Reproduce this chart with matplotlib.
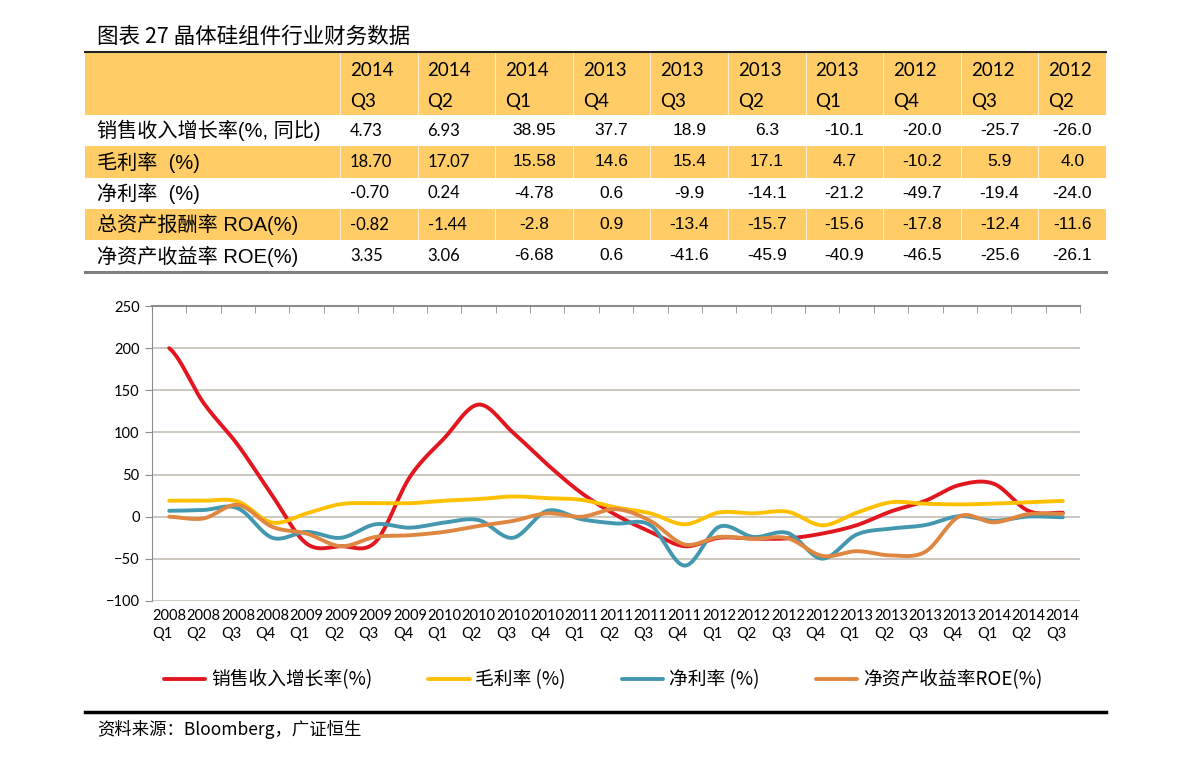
import numpy as np
import matplotlib
matplotlib.use("Agg")
import matplotlib.pyplot as plt
from matplotlib.ticker import FixedLocator
from matplotlib.patches import Rectangle

plt.rcParams['font.family'] = ['Noto Sans CJK SC', 'DejaVu Sans']

# ---- table data (columns run newest -> oldest, as in the report) ----
table_years = ['2014', '2014', '2014', '2013', '2013', '2013', '2013', '2012', '2012', '2012']
table_quarters = ['Q3', 'Q2', 'Q1', 'Q4', 'Q3', 'Q2', 'Q1', 'Q4', 'Q3', 'Q2']
row_labels = ['销售收入增长率(%, 同比)', '毛利率  (%)', '净利率  (%)',
              '总资产报酬率 ROA(%)', '净资产收益率 ROE(%)']
row_sales = ['4.73', '6.93', '38.95', '37.7', '18.9', '6.3', '-10.1', '-20.0', '-25.7', '-26.0']
row_gm = ['18.70', '17.07', '15.58', '14.6', '15.4', '17.1', '4.7', '-10.2', '5.9', '4.0']
row_nm = ['-0.70', '0.24', '-4.78', '0.6', '-9.9', '-14.1', '-21.2', '-49.7', '-19.4', '-24.0']
row_roa = ['-0.82', '-1.44', '-2.8', '0.9', '-13.4', '-15.7', '-15.6', '-17.8', '-12.4', '-11.6']
row_roe = ['3.35', '3.06', '-6.68', '0.6', '-41.6', '-45.9', '-40.9', '-46.5', '-25.6', '-26.1']

# ---- chart data, 2008Q1 .. 2014Q3 ----
years = ['2008'] * 4 + ['2009'] * 4 + ['2010'] * 4 + ['2011'] * 4 + ['2012'] * 4 + ['2013'] * 4 + ['2014'] * 3
quarters = ['Q1', 'Q2', 'Q3', 'Q4'] * 6 + ['Q1', 'Q2', 'Q3']
sales_growth = [200, 135, 85, 25, -32, -35, -30, 47, 93, 133, 100, 62, 28, 2, -18, -35,
                -25, -26.0, -25.7, -20.0, -10.1, 6.3, 18.9, 37.7, 38.95, 6.93, 4.73]
gross_margin = [19, 19, 18, -7, 4, 15, 16, 16, 19, 21, 24, 22, 20, 11, 4, -9,
                5, 4.0, 5.9, -10.2, 4.7, 17.1, 15.4, 14.6, 15.58, 17.07, 18.70]
net_margin = [7, 8, 10, -25, -18, -25, -9, -13, -7, -4, -25, 7, -3, -8, -10, -58,
              -12, -24.0, -19.4, -49.7, -21.2, -14.1, -9.9, 0.6, -4.78, 0.24, -0.70]
roe = [0, -2, 14, -12, -20, -35, -24, -22, -18, -11, -5, 4, 0, 9, -5, -33,
       -24, -26.1, -25.6, -46.5, -40.9, -45.9, -41.6, 0.6, -6.68, 3.06, 3.35]

series = [
    ('销售收入增长率(%)', sales_growth, '#E2161E'),
    ('毛利率 (%)', gross_margin, '#FFC000'),
    ('净利率 (%)', net_margin, '#4397AE'),
    ('净资产收益率ROE(%)', roe, '#DF8640'),
]

HEAD = '#FFCC66'


def smooth(vals, n=24):
    # Catmull-Rom, like Excel's smoothed line
    p = np.asarray(vals, float)
    pad = np.concatenate([[p[0]], p, [p[-1]]])
    xs, ys = [], []
    t = np.linspace(0, 1, n, endpoint=False)
    for i in range(len(p) - 1):
        p0, p1, p2, p3 = pad[i], pad[i + 1], pad[i + 2], pad[i + 3]
        y = 0.5 * (2 * p1 + (p2 - p0) * t + (2 * p0 - 5 * p1 + 4 * p2 - p3) * t ** 2
                   + (3 * p1 - p0 - 3 * p2 + p3) * t ** 3)
        xs.append(i + t)
        ys.append(y)
    xs.append([len(p) - 1])
    ys.append([p[-1]])
    return np.concatenate(xs), np.concatenate(ys)


W, H = 1191, 758
fig = plt.figure(figsize=(W / 100, H / 100), dpi=100)

# overlay in pixel coords for title / table / footer
ov = fig.add_axes([0, 0, 1, 1])
ov.set_xlim(0, W)
ov.set_ylim(H, 0)
ov.axis('off')

ov.text(97, 37, '图表 27 晶体硅组件行业财务数据', fontsize=15.5, va='center', ha='left')

# table
tx0, tx1 = 85, 1106
col_edges = [340 + 77.6 * i for i in range(10)] + [tx1]
row_tops = [115, 146, 178, 209, 240, 272]
ov.add_patch(Rectangle((tx0, 52), tx1 - tx0, 63, color=HEAD, lw=0))
for r in (1, 3):
    ov.add_patch(Rectangle((tx0, row_tops[r]), tx1 - tx0, row_tops[r + 1] - row_tops[r], color=HEAD, lw=0))
for xe in col_edges[:-1]:
    ov.plot([xe, xe], [52, 272], color='white', lw=0.8, alpha=0.7)
ov.plot([tx0, tx1], [52, 52], color='#222222', lw=1.5)
ov.plot([tx0, tx1], [272, 272], color='#7F7F7F', lw=2.2)

for j in range(10):
    x = col_edges[j] + 10
    ov.text(x, 70, table_years[j], fontsize=13.5, family=['Lato'], ha='left', va='center')
    ov.text(x, 101, table_quarters[j], fontsize=13.5, family=['Lato'], ha='left', va='center')

rows = [row_sales, row_gm, row_nm, row_roa, row_roe]
for r, (lab, vals) in enumerate(zip(row_labels, rows)):
    yc = (row_tops[r] + row_tops[r + 1]) / 2
    ov.text(97, yc, lab, fontsize=14.5, family=['Liberation Sans', 'Noto Sans CJK SC'],
            ha='left', va='center')
    for j, v in enumerate(vals):
        if j < 2:
            ov.text(col_edges[j] + 10, yc, v, fontsize=12, family=['Lato'], ha='left', va='center')
        else:
            xc = (col_edges[j] + col_edges[j + 1]) / 2
            ov.text(xc, yc, v, fontsize=12.5, family=['Liberation Sans'], ha='center', va='center')

# footer
ov.plot([85, 1106], [712, 712], color='black', lw=2.5)
ov.text(97, 729, '资料来源：Bloomberg，广证恒生', fontsize=12.5,
        family=['Noto Sans CJK SC', 'DejaVu Sans'], ha='left', va='center')

# chart
ax = fig.add_axes([152 / W, 1 - 601 / H, 928 / W, 295 / H])
n = len(years)
for name, vals, col in series:
    xs, ys = smooth(vals)
    ax.plot(xs, ys, color=col, lw=2.8, label=name, solid_capstyle='round')

ax.set_xlim(-0.5, n - 0.5)
ax.set_ylim(-100, 250)
ax.set_yticks(np.arange(-100, 251, 50))
ax.yaxis.grid(True, color='#C4BFB4', lw=1.2)
ax.set_axisbelow(True)
ax.set_xticks(range(n))
ax.set_xticklabels([f'{y}\n{q}' for y, q in zip(years, quarters)],
                   family=['Lato'], fontsize=10.5, multialignment='left', linespacing=1.35)
ax.xaxis.set_minor_locator(FixedLocator(np.arange(-0.5, n, 1.0)))
ax.tick_params(axis='x', which='major', length=0, pad=6)
ax.tick_params(axis='x', which='minor', bottom=False, top=True, direction='in',
               length=5, color='#8C8C8C')
ax.tick_params(axis='y', length=5, color='#8C8C8C', labelsize=10.5, pad=4)
for lab in ax.get_yticklabels():
    lab.set_family(['Lato'])
for s in ('right', 'bottom'):
    ax.spines[s].set_visible(False)
ax.spines['left'].set_color('#8C8C8C')
ax.spines['top'].set_color('#8C8C8C')
ax.spines['top'].set_linewidth(1.5)

fig.legend(loc='center', bbox_to_anchor=(603 / W, 1 - 680 / H), ncol=4, frameon=False,
           fontsize=13.5, handlelength=2.2, handletextpad=0.3, columnspacing=3.0)

fig.savefig('out.png', dpi=100, facecolor='white')
